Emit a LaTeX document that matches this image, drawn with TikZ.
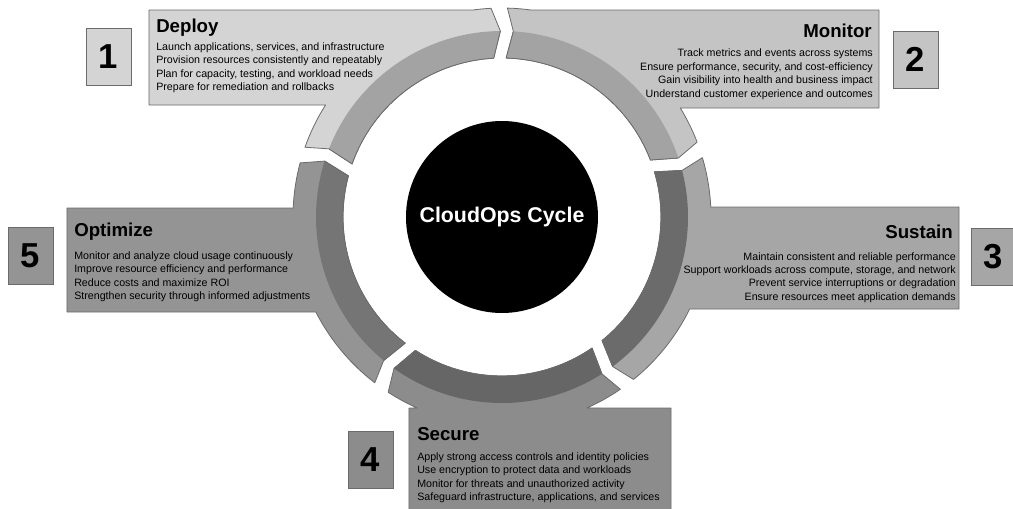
\documentclass[tikz,border=0pt]{standalone}
\usepackage{fontspec}
\setmainfont{Liberation Sans}
\usetikzlibrary{positioning}

\definecolor{edgegray}{gray}{0.42}
\definecolor{deployface}{gray}{0.83}
\definecolor{deployband}{gray}{0.64}
\definecolor{monitorface}{gray}{0.77}
\definecolor{monitorband}{gray}{0.64}
\definecolor{sustainface}{gray}{0.65}
\definecolor{sustainband}{gray}{0.42}
\definecolor{secureface}{gray}{0.55}
\definecolor{secureband}{gray}{0.40}
\definecolor{optimizeface}{gray}{0.58}
\definecolor{optimizeband}{gray}{0.46}

\tikzset{
  outline/.style={draw=edgegray, line width=0.6pt, line join=round},
  numbox/.style={draw=edgegray, line width=0.6pt, minimum width=33.75pt,
    minimum height=42.75pt, inner sep=0pt,
    font=\fontsize{26}{26}\selectfont\bfseries},
  head/.style={inner sep=0pt, font=\fontsize{14}{14}\selectfont\bfseries},
  body/.style={inner sep=0pt, font=\fontsize{8}{10}\selectfont},
}

\begin{document}
\begin{tikzpicture}[x=0.75pt, y=0.75pt]
    \useasboundingbox (-502,-291) rectangle (511,217);

    % Deploy segment
    \filldraw[outline, fill=deployface] ({180-asin(112/209)}:209) -- (-353,112) -- (-353,207)
        -- ({180-asin(207/209)}:209) arc[start angle={180-asin(207/209)}, end angle=93, radius=209]
        -- (90.5:186) -- (93:159) arc[start angle=93, end angle=160.5, radius=159]
        -- (158.5:186) -- (160.5:209) arc[start angle=160.5, end angle={180-asin(112/209)}, radius=209] -- cycle;
    \fill[deployband] (158.5:186) arc[start angle=158.5, end angle=90.5, radius=186]
        -- (93:159) arc[start angle=93, end angle=160.5, radius=159] -- cycle;
    \draw[outline] (90.5:186) -- (93:159) arc[start angle=93, end angle=160.5, radius=159] -- (158.5:186);

    % Monitor segment
    \filldraw[outline, fill=monitorface] (88.5:209) arc[start angle=88.5, end angle={asin(207/209)}, radius=209]
        -- (377,207) -- (377,109)
        -- ({asin(109/209)}:209) arc[start angle={asin(109/209)}, end angle=21, radius=209]
        -- (18.5:186) -- (21:159) arc[start angle=21, end angle=88.5, radius=159] -- (86.5:186) -- cycle;
    \fill[monitorband] (86.5:186) arc[start angle=86.5, end angle=18.5, radius=186]
        -- (21:159) arc[start angle=21, end angle=88.5, radius=159] -- cycle;
    \draw[outline] (18.5:186) -- (21:159) arc[start angle=21, end angle=88.5, radius=159] -- (86.5:186);

    % Sustain segment
    \filldraw[outline, fill=sustainface] (16.5:209) arc[start angle=16.5, end angle={asin(10/209)}, radius=209]
        -- (457,10) -- (457,-92)
        -- ({-asin(92/209)}:209) arc[start angle={-asin(92/209)}, end angle=-51, radius=209]
        -- (-53.5:186) -- (-51:159) arc[start angle=-51, end angle=16.5, radius=159] -- (14.5:186) -- cycle;
    \fill[sustainband] (14.5:186) arc[start angle=14.5, end angle=-53.5, radius=186]
        -- (-51:159) arc[start angle=-51, end angle=16.5, radius=159] -- cycle;
    \draw[outline] (-53.5:186) -- (-51:159) arc[start angle=-51, end angle=16.5, radius=159] -- (14.5:186);

    % Secure segment
    \filldraw[outline, fill=secureface] (-55.5:209) arc[start angle=-55.5, end angle={-asin(191/209)}, radius=209]
        -- (169,-191) -- (169,-300) -- (-93,-300) -- (-93,-191)
        -- ({-180+asin(191/209)}:209) arc[start angle={-180+asin(191/209)}, end angle=-123, radius=209]
        -- (-125.5:186) -- (-123:159) arc[start angle=-123, end angle=-55.5, radius=159] -- (-57.5:186) -- cycle;
    \fill[secureband] (-57.5:186) arc[start angle=-57.5, end angle=-125.5, radius=186]
        -- (-123:159) arc[start angle=-123, end angle=-55.5, radius=159] -- cycle;
    \draw[outline] (-125.5:186) -- (-123:159) arc[start angle=-123, end angle=-55.5, radius=159] -- (-57.5:186);

    % Optimize segment
    \filldraw[outline, fill=optimizeface] (-127.5:209) arc[start angle=-127.5, end angle={-180+asin(95/209)}, radius=209]
        -- (-435,-95) -- (-435,9)
        -- ({-180-asin(9/209)}:209) arc[start angle={-180-asin(9/209)}, end angle=-195, radius=209]
        -- (-197.5:186) -- (-195:159) arc[start angle=-195, end angle=-127.5, radius=159] -- (-129.5:186) -- cycle;
    \fill[optimizeband] (-129.5:186) arc[start angle=-129.5, end angle=-197.5, radius=186]
        -- (-195:159) arc[start angle=-195, end angle=-127.5, radius=159] -- cycle;
    \draw[outline] (-197.5:186) -- (-195:159) arc[start angle=-195, end angle=-127.5, radius=159] -- (-129.5:186);

    % Hub
    \node[circle, fill=black, minimum size=144pt, inner sep=0pt, text=white,
        font=\fontsize{16}{16}\selectfont\bfseries] (hub) at (0,0) {CloudOps Cycle};

    % Number boxes
    \node[numbox, fill=deployface] (num1) at (-393.5,160) {1};
    \node[numbox, fill=monitorface] (num2) at (413.5,157.5) {2};
    \node[numbox, fill=sustainface] (num3) at (491.5,-39.5) {3};
    \node[numbox, fill=secureface] (num4) at (-131.5,-242.5) {4};
    \node[numbox, fill=optimizeface] (num5) at (-471.5,-39) {5};

    % Deploy text
    \node[head, anchor=base west] (deployhead) at (-346,184.3) {Deploy};
    \node[body, anchor=base west] (deploy1) at (-346,166.7) {Launch applications, services, and infrastructure};
    \node[body, anchor=base west] (deploy2) at (-346,153.2) {Provision resources consistently and repeatably};
    \node[body, anchor=base west] (deploy3) at (-346,139.7) {Plan for capacity, testing, and workload needs};
    \node[body, anchor=base west] (deploy4) at (-346,126.2) {Prepare for remediation and rollbacks};

    % Monitor text
    \node[head, anchor=base east] (monitorhead) at (370,179.3) {Monitor};
    \node[body, anchor=base east] (monitor1) at (371,160.7) {Track metrics and events across systems};
    \node[body, anchor=base east] (monitor2) at (371,147) {Ensure performance, security, and cost-efficiency};
    \node[body, anchor=base east] (monitor3) at (371,133.4) {Gain visibility into health and business impact};
    \node[body, anchor=base east] (monitor4) at (371,119.7) {Understand customer experience and outcomes};

    % Sustain text
    \node[head, anchor=base east] (sustainhead) at (451,-21.7) {Sustain};
    \node[body, anchor=base east] (sustain1) at (454,-43.3) {Maintain consistent and reliable performance};
    \node[body, anchor=base east] (sustain2) at (454,-56.3) {Support workloads across compute, storage, and network};
    \node[body, anchor=base east] (sustain3) at (454,-69.6) {Prevent service interruptions or degradation};
    \node[body, anchor=base east] (sustain4) at (454,-83) {Ensure resources meet application demands};

    % Secure text
    \node[head, anchor=base west] (securehead) at (-85,-223.7) {Secure};
    \node[body, anchor=base west] (secure1) at (-85,-243.3) {Apply strong access controls and identity policies};
    \node[body, anchor=base west] (secure2) at (-85,-256.6) {Use encryption to protect data and workloads};
    \node[body, anchor=base west] (secure3) at (-85,-270) {Monitor for threats and unauthorized activity};
    \node[body, anchor=base west] (secure4) at (-85,-283.3) {Safeguard infrastructure, applications, and services};

    % Optimize text
    \node[head, anchor=base west] (optimizehead) at (-428,-19.7) {Optimize};
    \node[body, anchor=base west] (optimize1) at (-428,-42.3) {Monitor and analyze cloud usage continuously};
    \node[body, anchor=base west] (optimize2) at (-428,-55.6) {Improve resource efficiency and performance};
    \node[body, anchor=base west] (optimize3) at (-428,-69) {Reduce costs and maximize ROI};
    \node[body, anchor=base west] (optimize4) at (-428,-82.3) {Strengthen security through informed adjustments};
\end{tikzpicture}
\end{document}
